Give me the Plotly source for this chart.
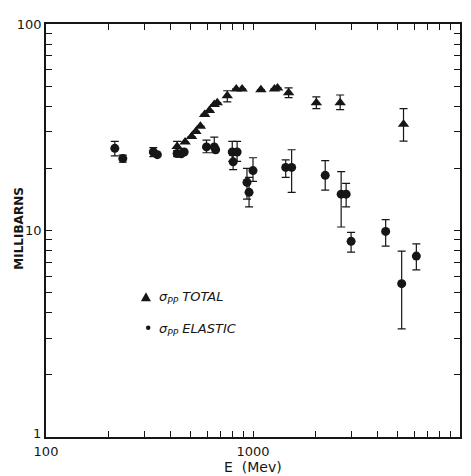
import plotly.graph_objects as go

# ---- data ----
E_total = [430, 470, 505, 530, 557, 584, 616, 650, 672, 751, 830, 886, 1092, 1270, 1314, 1486, 2023, 2637, 5335]
sig_total = [25.5, 26.8, 28.5, 30.2, 32.0, 36.5, 38.1, 40.7, 41.6, 44.9, 48.5, 48.5, 48.0, 48.5, 49.0, 46.4, 41.6, 41.6, 32.7]
tot_err_up = [1.5, 0, 0, 0, 0, 0, 0, 0, 0, 2.6, 0, 0, 0, 0, 0, 2.6, 2.8, 3.7, 6.2]
tot_err_dn = [1.5, 0, 0, 0, 0, 0, 0, 0, 0, 2.9, 0, 0, 0, 0, 0, 2.4, 2.7, 3.1, 5.6]

E_elastic = [215, 235, 330, 345, 430, 450, 465, 596, 650, 660, 794, 802, 838, 935, 957, 1000,
             1439, 1537, 2233, 2666, 2818, 2978, 4374, 5227, 6153]
sig_elastic = [25.0, 22.3, 24.0, 23.3, 23.6, 23.5, 24.0, 25.4, 25.4, 24.6, 24.0, 21.5, 24.0, 17.1, 15.3, 19.5,
               20.2, 20.2, 18.5, 15.0, 15.0, 8.86, 9.9, 5.53, 7.52]
el_err_up = [2.0, 0.9, 1.2, 0, 0.8, 0, 0, 2.0, 2.9, 0, 3.0, 1.7, 3.0, 2.9, 2.8, 3.0,
             1.8, 4.4, 3.3, 4.3, 1.9, 0.94, 1.4, 2.41, 1.1]
el_err_dn = [2.0, 0.9, 1.2, 0, 0.8, 0, 0, 1.6, 1.6, 0, 2.4, 1.8, 2.4, 2.9, 2.3, 2.2,
             2.1, 4.9, 2.8, 4.6, 2.0, 1.0, 1.5, 2.19, 1.07]

x_ticks = [100, 1000, 10000]
x_ticklabels = ["100", "1000", "10 000"]
y_ticks = [10, 100]
y_ticklabels = ["10", "100"]
y_bottom_label = "1"

INK = "#161616"
FONT = "DejaVu Sans"

def all_ticks(decades):
    vals, txt = [], []
    for d in decades:
        for m in range(1, 10):
            vals.append(m * d)
            txt.append("")
    return vals, txt

fig = go.Figure()
fig.add_trace(go.Scatter(
    x=E_total, y=sig_total, mode="markers",
    marker=dict(symbol="triangle-up", size=10, color=INK),
    error_y=dict(type="data", symmetric=False, array=tot_err_up, arrayminus=tot_err_dn,
                 color=INK, thickness=1.2, width=4),
    showlegend=False))
fig.add_trace(go.Scatter(
    x=E_elastic, y=sig_elastic, mode="markers",
    marker=dict(symbol="circle", size=9, color=INK),
    error_y=dict(type="data", symmetric=False, array=el_err_up, arrayminus=el_err_dn,
                 color=INK, thickness=1.2, width=4),
    showlegend=False))

xv, xt = all_ticks([100, 1000])
xv.append(10000); xt.append("")
for v, t in zip(x_ticks, x_ticklabels):
    xt[xv.index(v)] = t
yv, yt = all_ticks([1, 10])
yv.append(100); yt.append("")
for v, t in zip(y_ticks, y_ticklabels):
    yt[yv.index(v)] = t

axis_common = dict(type="log", showgrid=False, zeroline=False, showline=True, linecolor=INK,
                   linewidth=1.5, mirror="ticks", ticks="inside", ticklen=6, tickwidth=1.3,
                   tickcolor=INK, tickmode="array",
                   tickfont=dict(family=FONT, size=13, color=INK))
fig.update_xaxes(range=[2, 4], tickvals=xv, ticktext=xt, ticklabelstandoff=2, **axis_common)
fig.update_yaxes(range=[0, 2], tickvals=yv, ticktext=yt, **axis_common)

# bottom y label placed just above the corner so it clears the x label "100"
fig.add_annotation(x=0, y=0, xref="paper", yref="paper", xanchor="right", yanchor="middle",
                   xshift=-3, yshift=4, text=y_bottom_label, showarrow=False,
                   font=dict(family=FONT, size=13, color=INK))

# legend symbols (pixel-sized shapes anchored in data space)
fig.add_shape(type="path", xref="x", yref="y", xsizemode="pixel", ysizemode="pixel",
              xanchor=304, yanchor=4.75, path="M-5,-4 L5,-4 L0,5 Z",
              fillcolor=INK, line=dict(color=INK, width=0))
fig.add_shape(type="circle", xref="x", yref="y", xsizemode="pixel", ysizemode="pixel",
              xanchor=304, yanchor=3.30, x0=-4.5, x1=4.5, y0=-4.5, y1=4.5,
              fillcolor=INK, line=dict(color=INK, width=0))

fig.add_annotation(x=0.268, y=0.338, xref="paper", yref="paper", xanchor="left", yanchor="middle",
                   text="<i>σ<sub>PP</sub> TOTAL</i>", showarrow=False,
                   font=dict(family=FONT, size=13, color=INK))
fig.add_annotation(x=0.268, y=0.260, xref="paper", yref="paper", xanchor="left", yanchor="middle",
                   text="<i>σ<sub>PP</sub> ELASTIC</i>", showarrow=False,
                   font=dict(family=FONT, size=13, color=INK))

# axis titles
fig.add_annotation(x=-0.0646, y=0.505, xref="paper", yref="paper", xanchor="center", yanchor="middle",
                   text="<b>MILLIBARNS</b>", textangle=-90, showarrow=False,
                   font=dict(family=FONT, size=12, color=INK))
fig.add_annotation(x=0.5, y=-0.072, xref="paper", yref="paper", xanchor="center", yanchor="middle",
                   text="E  (Mev)", showarrow=False,
                   font=dict(family=FONT, size=14, color=INK))

# the page body adds an 8px offset, so the figure is sized to end at the window edge
fig.update_layout(width=463, height=468, margin=dict(l=36, r=9, t=9, b=39),
                  paper_bgcolor="white", plot_bgcolor="white", showlegend=False)

fig.write_html("out.html")
